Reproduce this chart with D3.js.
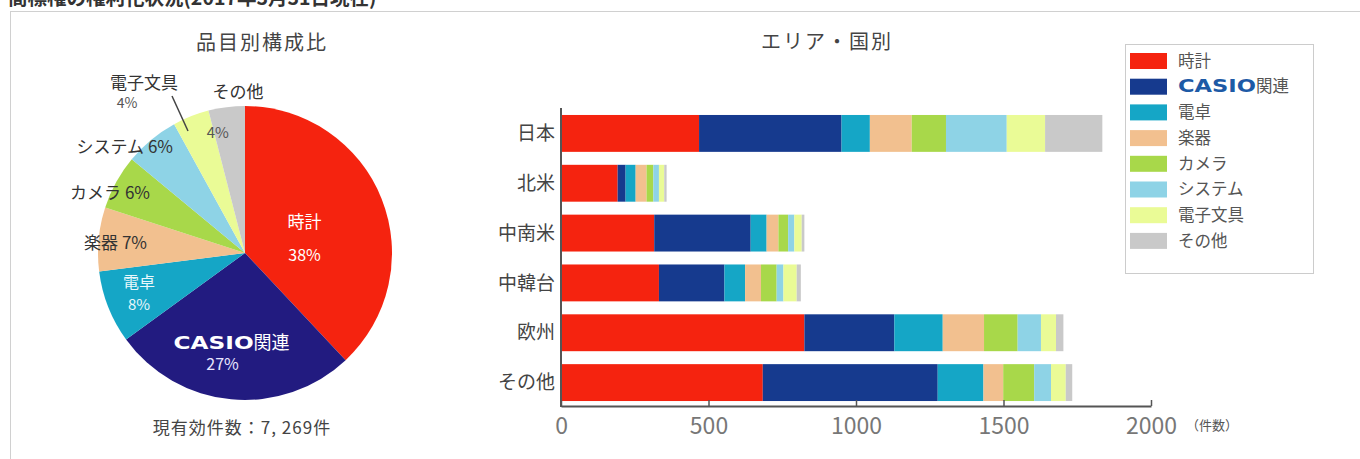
<!DOCTYPE html>
<html>
<head>
<meta charset="utf-8">
<script src="https://cdn.jsdelivr.net/npm/d3@7"></script>
<style>
  body { margin: 0; background: #fff; overflow: hidden; }
  text { font-family: "Noto Sans CJK JP", "Noto Sans", sans-serif; fill: #333; }
</style>
</head>
<body>
<div id="chart"></div>
<script>
// categories (pie slices / stack series)
var categories = ["時計", "CASIO関連", "電卓", "楽器", "カメラ", "システム", "電子文具", "その他"];
var colors = ["#f5230f", "#163a8e", "#15a6c6", "#f2c08f", "#a8d84a", "#8ed3e6", "#eafb96", "#c9c9c9"];
var pieShares = [38, 27, 8, 7, 6, 6, 4, 4];

// regions and counts per category
var regions = ["日本", "北米", "中南米", "中韓台", "欧州", "その他"];
var watch   = [468, 192, 316, 332, 825, 684];
var casio   = [483,  27, 327, 222, 305, 593];
var calc    = [ 96,  34,  54,  70, 164, 155];
var music   = [142,  37,  40,  54, 140,  67];
var camera  = [116,  23,  33,  53, 114, 105];
var system  = [206,  19,  21,  23,  79,  57];
var station = [130,  18,  25,  45,  51,  50];
var other   = [194,   8,   9,  14,  25,  22];
var xTicks = [0, 500, 1000, 1500, 2000];

var W = 1360, H = 459;
var svg = d3.select('#chart').append('svg')
  .attr('width', W)
  .attr('height', H);

// cut-off heading above panel
svg.append('text')
  .attr('x', 8).attr('y', 5)
  .attr('font-size', 19.5).attr('font-weight', 'bold')
  .style('fill', '#333')
  .text('商標権の権利化状況(2017年3月31日現在)');

// panel frame
svg.append('rect')
  .attr('x', 10.5).attr('y', 11.5)
  .attr('width', 1360).attr('height', 460)
  .attr('fill', 'none').attr('stroke', '#d0d0d0');

// ---------- pie ----------
var cx = 245, cy = 253, R = 147;
var pieColors = colors.slice();
pieColors[1] = "#221b80";

var pie = d3.pie().sort(null).value(function(d) { return d; });
var arcs = pie(pieShares);
var arc = d3.arc().innerRadius(0).outerRadius(R);
var g = svg.append('g').attr('transform', 'translate(' + cx + ',' + cy + ')');

g.selectAll('path')
  .data(arcs)
  .enter().append('path')
  .attr('d', arc)
  .attr('fill', function(d, i) { return pieColors[i]; });

svg.append('text')
  .attr('x', 262).attr('y', 50)
  .attr('text-anchor', 'middle').attr('font-size', 20)
  .attr('letter-spacing', 2).style('fill', '#444')
  .text('品目別構成比');

function labelAt(i, r) {
  return d3.arc().innerRadius(r).outerRadius(r).centroid(arcs[i]);
}

// inside labels
var p = labelAt(0, 64);
g.append('text').attr('x', p[0]).attr('y', p[1] - 1).attr('text-anchor', 'middle')
  .attr('font-size', 17).style('fill', '#fff').text('時計');
g.append('text').attr('x', p[0]).attr('y', p[1] + 32).attr('text-anchor', 'middle')
  .attr('font-size', 16).style('fill', '#fff').text(pieShares[0] + '%');

p = labelAt(1, 100);
var ct = g.append('text').attr('x', p[0] - 4).attr('y', p[1] - 4).attr('text-anchor', 'middle')
  .attr('font-size', 18).style('fill', '#fff');
ct.append('tspan').attr('font-family', '"DejaVu Sans", sans-serif')
  .attr('font-weight', 'bold').attr('font-size', 17)
  .attr('textLength', 80).attr('lengthAdjust', 'spacingAndGlyphs')
  .style('fill', '#fff').text('CASIO');
ct.append('tspan').style('fill', '#fff').text('関連');
g.append('text').attr('x', p[0] - 13).attr('y', p[1] + 17).attr('text-anchor', 'middle')
  .attr('font-size', 16).style('fill', '#e8e6ff').text(pieShares[1] + '%');

p = labelAt(2, 114);
g.append('text').attr('x', p[0]).attr('y', p[1] - 7).attr('text-anchor', 'middle')
  .attr('font-size', 16).style('fill', '#e8f7fb').text('電卓');
g.append('text').attr('x', p[0]).attr('y', p[1] + 15).attr('text-anchor', 'middle')
  .attr('font-size', 15).style('fill', '#e8f7fb').text(pieShares[2] + '%');

p = labelAt(7, 122);
g.append('text').attr('x', p[0] - 12).attr('y', p[1] + 6).attr('text-anchor', 'middle')
  .attr('font-size', 15).style('fill', '#555').text(pieShares[7] + '%');

// outside labels
svg.append('text').attr('x', 147).attr('y', 249).attr('text-anchor', 'end')
  .attr('font-size', 17).text('楽器 ' + pieShares[3] + '%');
svg.append('text').attr('x', 150).attr('y', 199).attr('text-anchor', 'end')
  .attr('font-size', 17).text('カメラ ' + pieShares[4] + '%');
svg.append('text').attr('x', 173).attr('y', 153).attr('text-anchor', 'end')
  .attr('font-size', 17).text('システム ' + pieShares[5] + '%');
svg.append('text').attr('x', 144).attr('y', 89).attr('text-anchor', 'middle')
  .attr('font-size', 17).text('電子文具');
svg.append('text').attr('x', 127).attr('y', 108).attr('text-anchor', 'middle')
  .attr('font-size', 14).style('fill', '#555').text(pieShares[6] + '%');
svg.append('line').attr('x1', 172).attr('y1', 96).attr('x2', 188).attr('y2', 131)
  .attr('stroke', '#444').attr('stroke-width', 1.5);
svg.append('text').attr('x', 238).attr('y', 98).attr('text-anchor', 'middle')
  .attr('font-size', 17).text('その他');

svg.append('text')
  .attr('x', 242).attr('y', 434)
  .attr('text-anchor', 'middle').attr('font-size', 17)
  .attr('letter-spacing', 1).style('fill', '#444')
  .text('現有効件数：7, 269件');

// ---------- stacked bars ----------
var rows = regions.map(function(r, i) {
  return {
    region: r,
    "時計": watch[i], "CASIO関連": casio[i], "電卓": calc[i], "楽器": music[i],
    "カメラ": camera[i], "システム": system[i], "電子文具": station[i], "その他": other[i]
  };
});
var series = d3.stack().keys(categories)(rows);

var x = d3.scaleLinear().domain([0, 2000]).range([561, 1151]);
var y = d3.scaleBand().domain(regions).range([108.5, 407.5])
  .paddingInner(0.26).paddingOuter(0.13);

svg.append('text')
  .attr('x', 827).attr('y', 49)
  .attr('text-anchor', 'middle').attr('font-size', 20)
  .attr('letter-spacing', 2).style('fill', '#444')
  .text('エリア・国別');

svg.append('g').selectAll('g')
  .data(series)
  .enter().append('g')
  .attr('fill', function(d, i) { return colors[i]; })
  .selectAll('rect')
  .data(function(d) { return d; })
  .enter().append('rect')
  .attr('x', function(d) { return x(d[0]); })
  .attr('y', function(d) { return y(d.data.region); })
  .attr('width', function(d) { return x(d[1]) - x(d[0]); })
  .attr('height', y.bandwidth());

// axes
var xAxis = svg.append('g')
  .attr('transform', 'translate(0,406)')
  .call(d3.axisBottom(x).tickValues(xTicks).tickFormat(d3.format('d'))
    .tickSize(-6).tickSizeOuter(0).tickPadding(8));
xAxis.select('.domain').attr('stroke', '#555').attr('stroke-width', 2);
xAxis.selectAll('line').attr('stroke', '#555').attr('stroke-width', 1.5);
xAxis.selectAll('text')
  .attr('font-family', '"Liberation Sans", Arial, sans-serif')
  .attr('font-size', 23).style('fill', '#777')
  .attr('dy', '0.85em');

svg.append('line')
  .attr('x1', 561).attr('x2', 561).attr('y1', 108).attr('y2', 407)
  .attr('stroke', '#555').attr('stroke-width', 2);

svg.append('g').selectAll('text')
  .data(regions)
  .enter().append('text')
  .attr('x', 555)
  .attr('y', function(d) { return y(d) + y.bandwidth() / 2; })
  .attr('dy', '0.35em')
  .attr('text-anchor', 'end')
  .attr('font-size', 19).style('fill', '#444')
  .text(function(d) { return d; });

svg.append('text')
  .attr('x', 1186).attr('y', 430)
  .attr('font-size', 13).style('fill', '#555')
  .text('（件数）');

// ---------- legend ----------
svg.append('rect')
  .attr('x', 1125.5).attr('y', 44.5)
  .attr('width', 188).attr('height', 229)
  .attr('fill', '#fff').attr('stroke', '#ccc');

var lg = svg.append('g').selectAll('g')
  .data(categories)
  .enter().append('g')
  .attr('transform', function(d, i) { return 'translate(1130,' + (61 + i * 25.7) + ')'; });
lg.append('rect')
  .attr('x', 0).attr('y', -8)
  .attr('width', 37).attr('height', 16)
  .attr('fill', function(d, i) { return colors[i]; });
lg.each(function(d, i) {
  var t = d3.select(this).append('text')
    .attr('x', 48).attr('dy', '0.35em')
    .attr('font-size', 16.5).style('fill', '#555');
  if (d == 'CASIO関連') {
    t.append('tspan').attr('font-family', '"DejaVu Sans", sans-serif')
      .attr('font-weight', 'bold').attr('font-size', 17)
      .attr('textLength', 78).attr('lengthAdjust', 'spacingAndGlyphs')
      .style('fill', '#1d5aa6').text('CASIO');
    t.append('tspan').style('fill', '#555').text('関連');
  } else {
    t.text(d);
  }
});
</script>
</body>
</html>
